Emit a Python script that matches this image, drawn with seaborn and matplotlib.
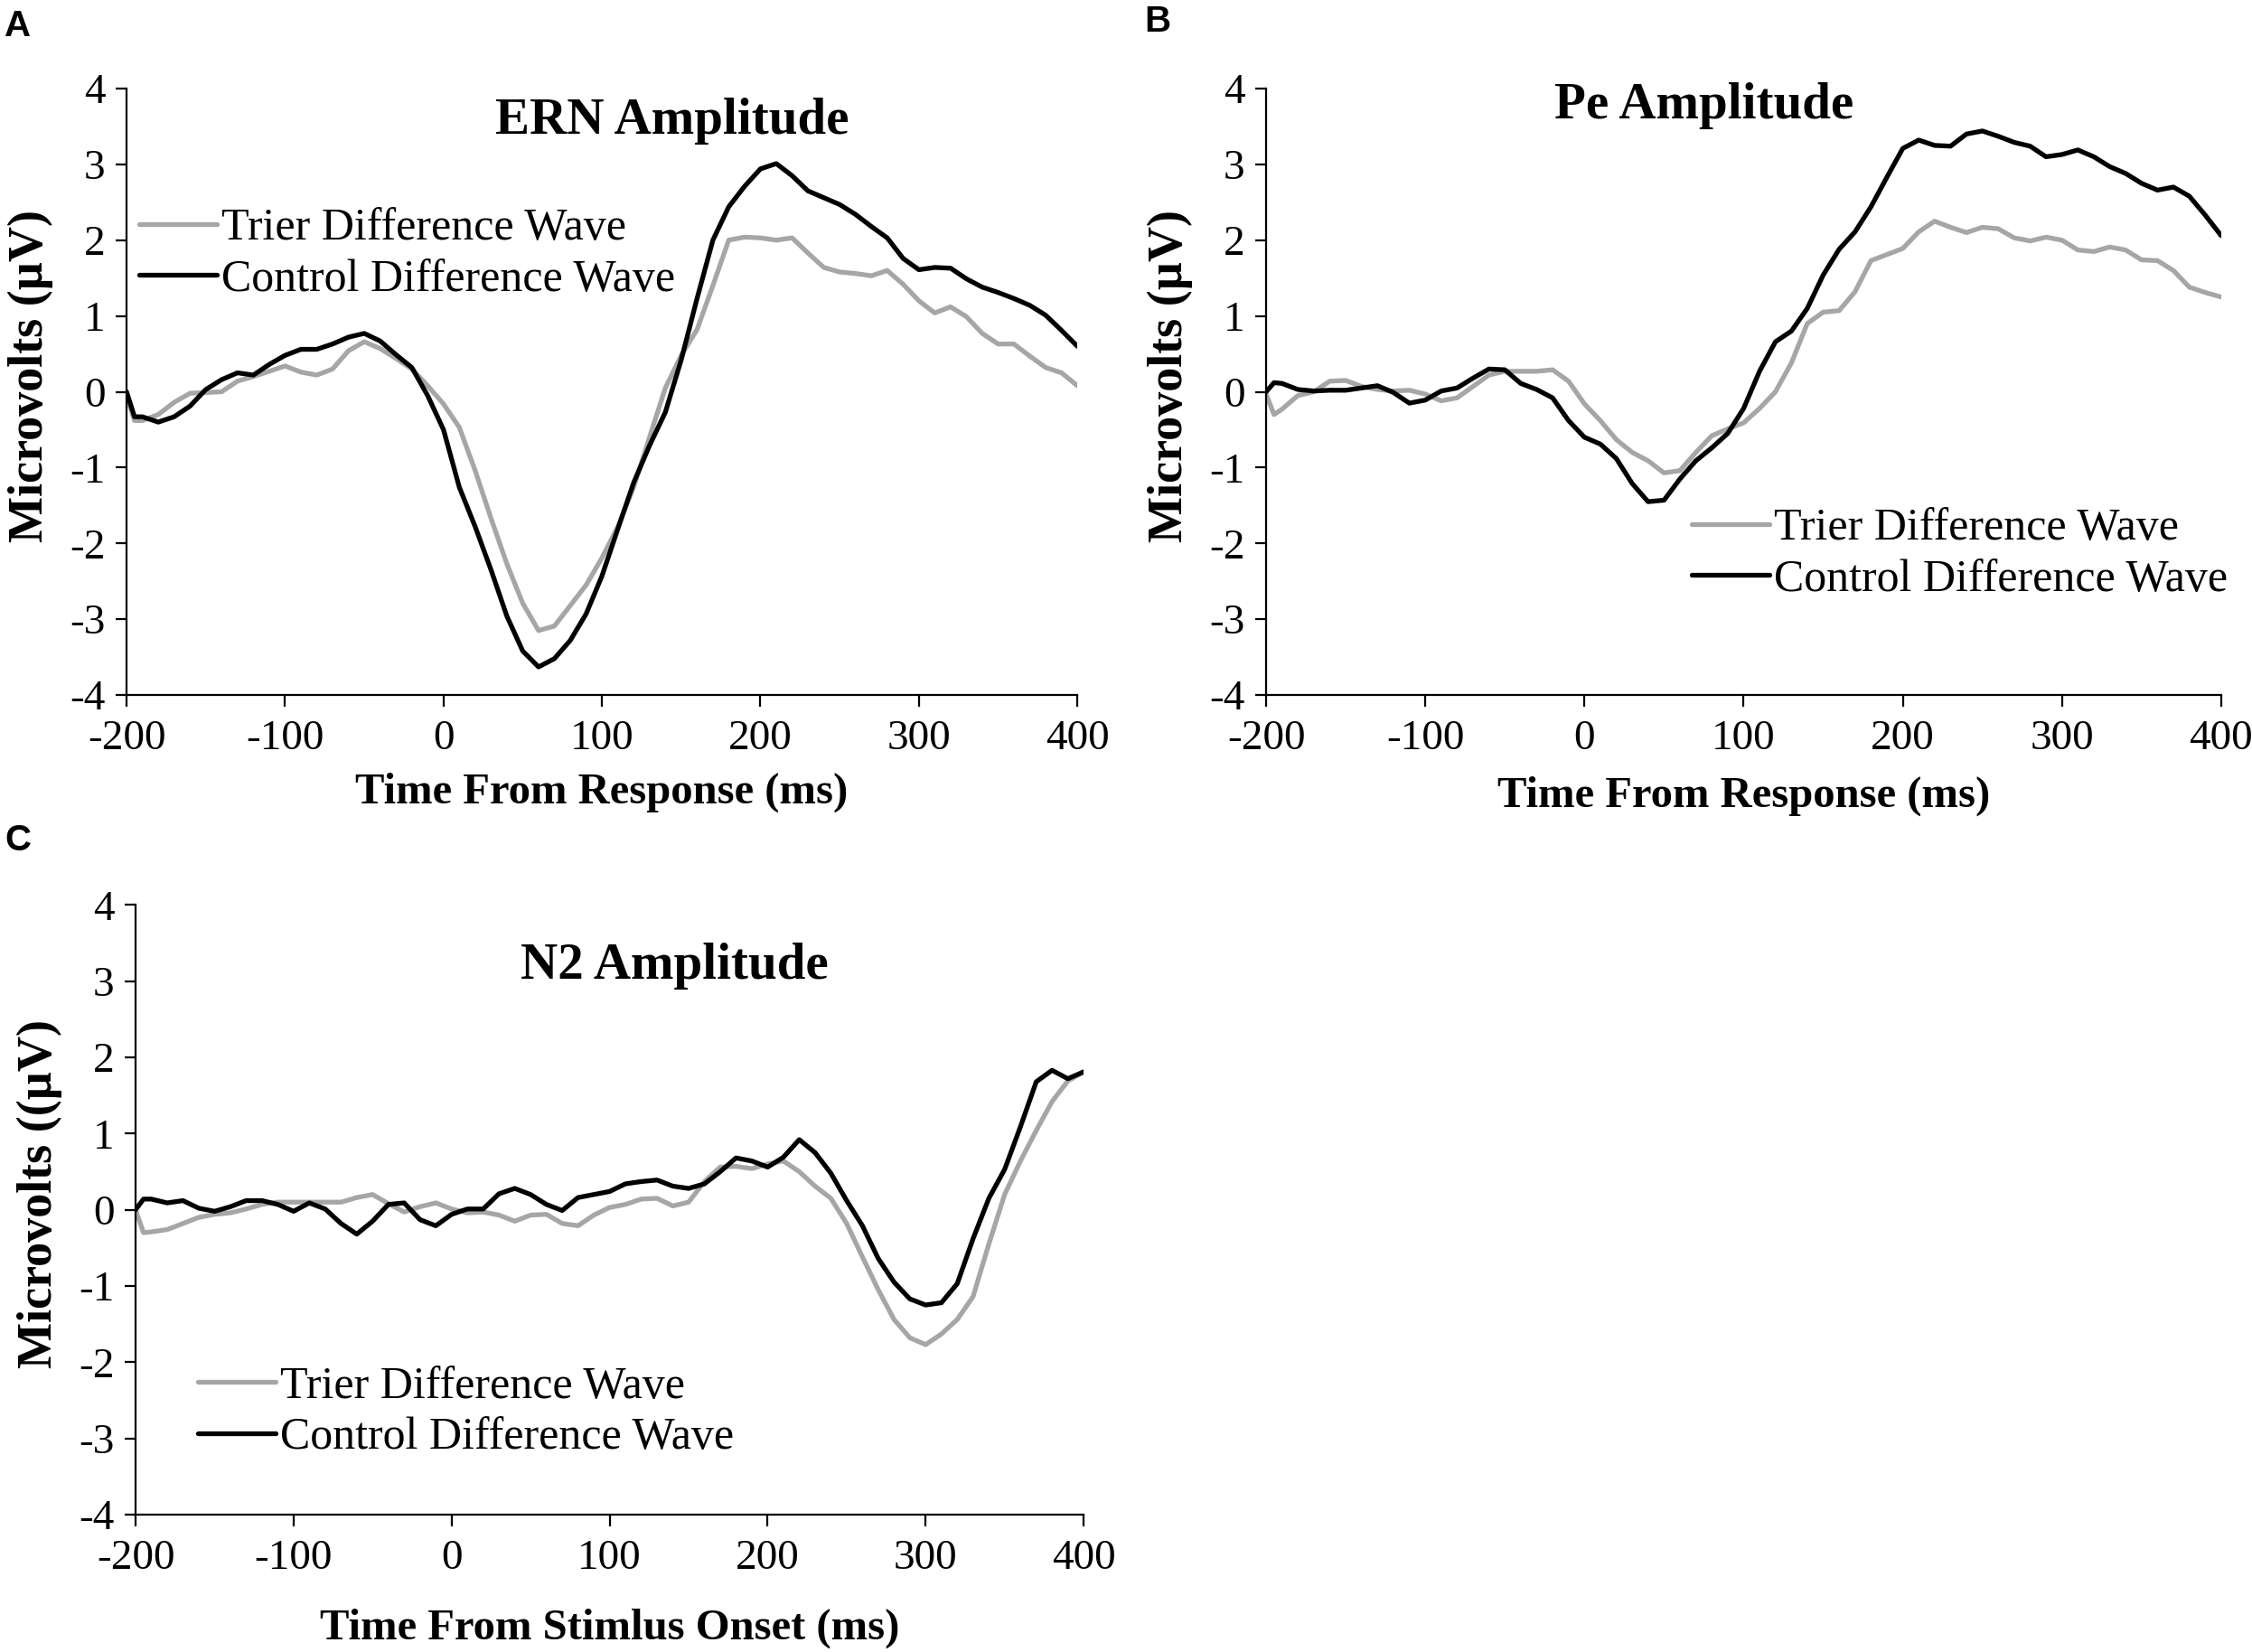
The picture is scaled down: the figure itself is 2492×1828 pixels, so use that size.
import matplotlib
matplotlib.use("Agg")
import numpy as np
import pandas as pd
import matplotlib.pyplot as plt
import seaborn as sns

# --- data (microvolts) ---
time_ms = [-200, -195] + list(range(-190, 401, 10))
wave_names = ["Trier Difference Wave", "Control Difference Wave"]

ern_trier = [-0.05, -0.38, -0.38, -0.30, -0.14, -0.02, -0.01, 0.00, 0.14, 0.20,
             0.27, 0.34, 0.26, 0.22, 0.30, 0.54, 0.66, 0.57, 0.44, 0.30,
             0.08, -0.16, -0.47, -1.04, -1.67, -2.27, -2.79, -3.15, -3.09, -2.82,
             -2.55, -2.19, -1.78, -1.26, -0.60, 0.05, 0.48, 0.82, 1.40, 2.00,
             2.04, 2.03, 2.00, 2.03, 1.83, 1.64, 1.58, 1.56, 1.53, 1.60,
             1.42, 1.20, 1.04, 1.12, 0.99, 0.77, 0.63, 0.63, 0.47, 0.32,
             0.25, 0.08]
ern_control = [0.00, -0.33, -0.33, -0.40, -0.33, -0.19, 0.03, 0.16, 0.25, 0.22,
               0.36, 0.48, 0.56, 0.56, 0.63, 0.72, 0.77, 0.67, 0.49, 0.32,
               -0.05, -0.50, -1.26, -1.78, -2.35, -2.96, -3.42, -3.63, -3.52, -3.28,
               -2.93, -2.43, -1.81, -1.20, -0.71, -0.27, 0.42, 1.23, 2.00, 2.44,
               2.71, 2.94, 3.01, 2.85, 2.65, 2.56, 2.47, 2.34, 2.18, 2.03,
               1.76, 1.61, 1.64, 1.63, 1.49, 1.38, 1.31, 1.23, 1.14, 1.01,
               0.81, 0.60]

pe_trier = [-0.03, -0.30, -0.23, -0.05, 0.00, 0.14, 0.15, 0.07, 0.03, 0.01,
            0.02, -0.03, -0.12, -0.08, 0.07, 0.22, 0.27, 0.27, 0.27, 0.29,
            0.14, -0.16, -0.38, -0.63, -0.80, -0.91, -1.07, -1.04, -0.80, -0.58,
            -0.49, -0.41, -0.22, 0.00, 0.38, 0.90, 1.05, 1.07, 1.32, 1.73,
            1.81, 1.89, 2.11, 2.25, 2.17, 2.10, 2.17, 2.15, 2.03, 1.99,
            2.04, 2.00, 1.87, 1.85, 1.91, 1.87, 1.74, 1.73, 1.60, 1.38,
            1.31, 1.25]
pe_control = [0.00, 0.12, 0.11, 0.03, 0.01, 0.02, 0.02, 0.05, 0.08, -0.01,
              -0.15, -0.11, 0.01, 0.05, 0.18, 0.30, 0.29, 0.11, 0.03, -0.08,
              -0.38, -0.60, -0.69, -0.88, -1.21, -1.45, -1.43, -1.15, -0.91, -0.74,
              -0.55, -0.22, 0.27, 0.66, 0.80, 1.10, 1.54, 1.88, 2.11, 2.44,
              2.83, 3.21, 3.32, 3.25, 3.24, 3.40, 3.44, 3.37, 3.29, 3.24,
              3.10, 3.13, 3.19, 3.10, 2.97, 2.88, 2.75, 2.66, 2.70, 2.58,
              2.33, 2.06]

n2_trier = [0.00, -0.30, -0.29, -0.26, -0.18, -0.10, -0.06, -0.04, 0.01, 0.07,
            0.10, 0.10, 0.10, 0.10, 0.10, 0.16, 0.20, 0.08, -0.03, 0.04,
            0.09, 0.01, -0.04, -0.03, -0.07, -0.15, -0.07, -0.06, -0.18, -0.21,
            -0.07, 0.03, 0.07, 0.14, 0.15, 0.05, 0.10, 0.37, 0.56, 0.57,
            0.54, 0.60, 0.64, 0.50, 0.31, 0.15, -0.18, -0.62, -1.05, -1.44,
            -1.68, -1.77, -1.63, -1.44, -1.14, -0.45, 0.20, 0.64, 1.04, 1.42,
            1.69, 1.81]
n2_control = [0.00, 0.14, 0.14, 0.09, 0.12, 0.02, -0.02, 0.04, 0.12, 0.12,
              0.07, -0.02, 0.09, 0.01, -0.18, -0.32, -0.15, 0.07, 0.09, -0.13,
              -0.21, -0.06, 0.01, 0.01, 0.21, 0.28, 0.20, 0.07, -0.01, 0.16,
              0.20, 0.24, 0.34, 0.37, 0.39, 0.31, 0.28, 0.34, 0.50, 0.68,
              0.64, 0.56, 0.69, 0.92, 0.75, 0.48, 0.12, -0.21, -0.64, -0.95,
              -1.17, -1.25, -1.22, -0.97, -0.38, 0.15, 0.53, 1.09, 1.68, 1.83,
              1.72, 1.81]

titles = ["ERN Amplitude", "Pe Amplitude", "N2 Amplitude"]
x_labels = ["Time From Response (ms)", "Time From Response (ms)",
            "Time From Stimlus Onset (ms)"]
y_labels = ["Microvolts (\u00b5V)", "Microvolts (\u00b5V)", "Microvolts ((\u00b5V)"]
panel_letters = ["A", "B", "C"]
x_ticks = [-200, -100, 0, 100, 200, 300, 400]
y_ticks = [-4, -3, -2, -1, 0, 1, 2, 3, 4]

sns.set_style("ticks")
plt.rcParams["font.family"] = "serif"
plt.rcParams["font.serif"] = ["Liberation Serif", "DejaVu Serif"]
plt.rcParams["axes.unicode_minus"] = False
for key in ["text.color", "axes.labelcolor", "xtick.color", "ytick.color", "axes.edgecolor"]:
    plt.rcParams[key] = "black"

palette = {wave_names[0]: "#a6a6a6", wave_names[1]: "#000000"}

fig = plt.figure(figsize=(24.92, 18.28), dpi=100)

# axes rectangles [left, bottom, width, height] in figure fractions
rects = [[0.0562, 0.5793, 0.4222, 0.3671],
         [0.5622, 0.5793, 0.4241, 0.3671],
         [0.0602, 0.0832, 0.4210, 0.3690]]
title_pos = [(0.574, 0.947), (0.459, 0.972), (0.568, 0.900)]
legend_pos = [(0.013, 0.727), (0.446, 0.232), (0.066, 0.168)]
xlabel_y = [-0.128, -0.133, -0.154]
letter_pos = [(0.008, 0.984), (0.514, 0.987), (0.008, 0.491)]

panels = [(ern_trier, ern_control), (pe_trier, pe_control), (n2_trier, n2_control)]

for i, (trier, control) in enumerate(panels):
    ax = fig.add_axes(rects[i])
    df = pd.DataFrame({
        "time": time_ms * 2,
        "amp": trier + control,
        "wave": [wave_names[0]] * len(time_ms) + [wave_names[1]] * len(time_ms),
    })
    sns.lineplot(data=df, x="time", y="amp", hue="wave", hue_order=wave_names,
                 palette=palette, linewidth=3.8, ax=ax, estimator=None)
    ax.set_xlim(-200, 400)
    ax.set_ylim(-4, 4)
    ax.set_xticks(x_ticks)
    ax.set_yticks(y_ticks)
    ax.tick_params(axis="both", direction="out", length=9, width=1.6,
                   labelsize=34)
    ax.tick_params(axis="x", pad=11)
    ax.tick_params(axis="y", pad=8)
    for s in ["left", "bottom"]:
        ax.spines[s].set_linewidth(1.6)
    sns.despine(ax=ax)

    ax.set_xlabel(x_labels[i], fontsize=35, fontweight="bold")
    ax.set_ylabel(y_labels[i], fontsize=39, fontweight="bold")
    ax.xaxis.set_label_coords(0.5, xlabel_y[i])
    ax.yaxis.set_label_coords(-0.077, 0.526)

    ax.text(title_pos[i][0], title_pos[i][1], titles[i], transform=ax.transAxes,
            ha="center", va="center", fontsize=41, fontweight="bold")

    sns.move_legend(ax, "center left", bbox_to_anchor=legend_pos[i], title=None,
                    frameon=False, fontsize=36, handlelength=1.72,
                    handletextpad=0.1, labelspacing=0.2, borderpad=0,
                    borderaxespad=0)
    for line in ax.get_legend().get_lines():
        line.set_linewidth(3.8)

    fig.text(letter_pos[i][0], letter_pos[i][1], panel_letters[i],
             ha="center", va="center", fontsize=29, fontweight="bold",
             family=["Liberation Sans", "DejaVu Sans"])

fig.savefig("out.png", dpi=100)
